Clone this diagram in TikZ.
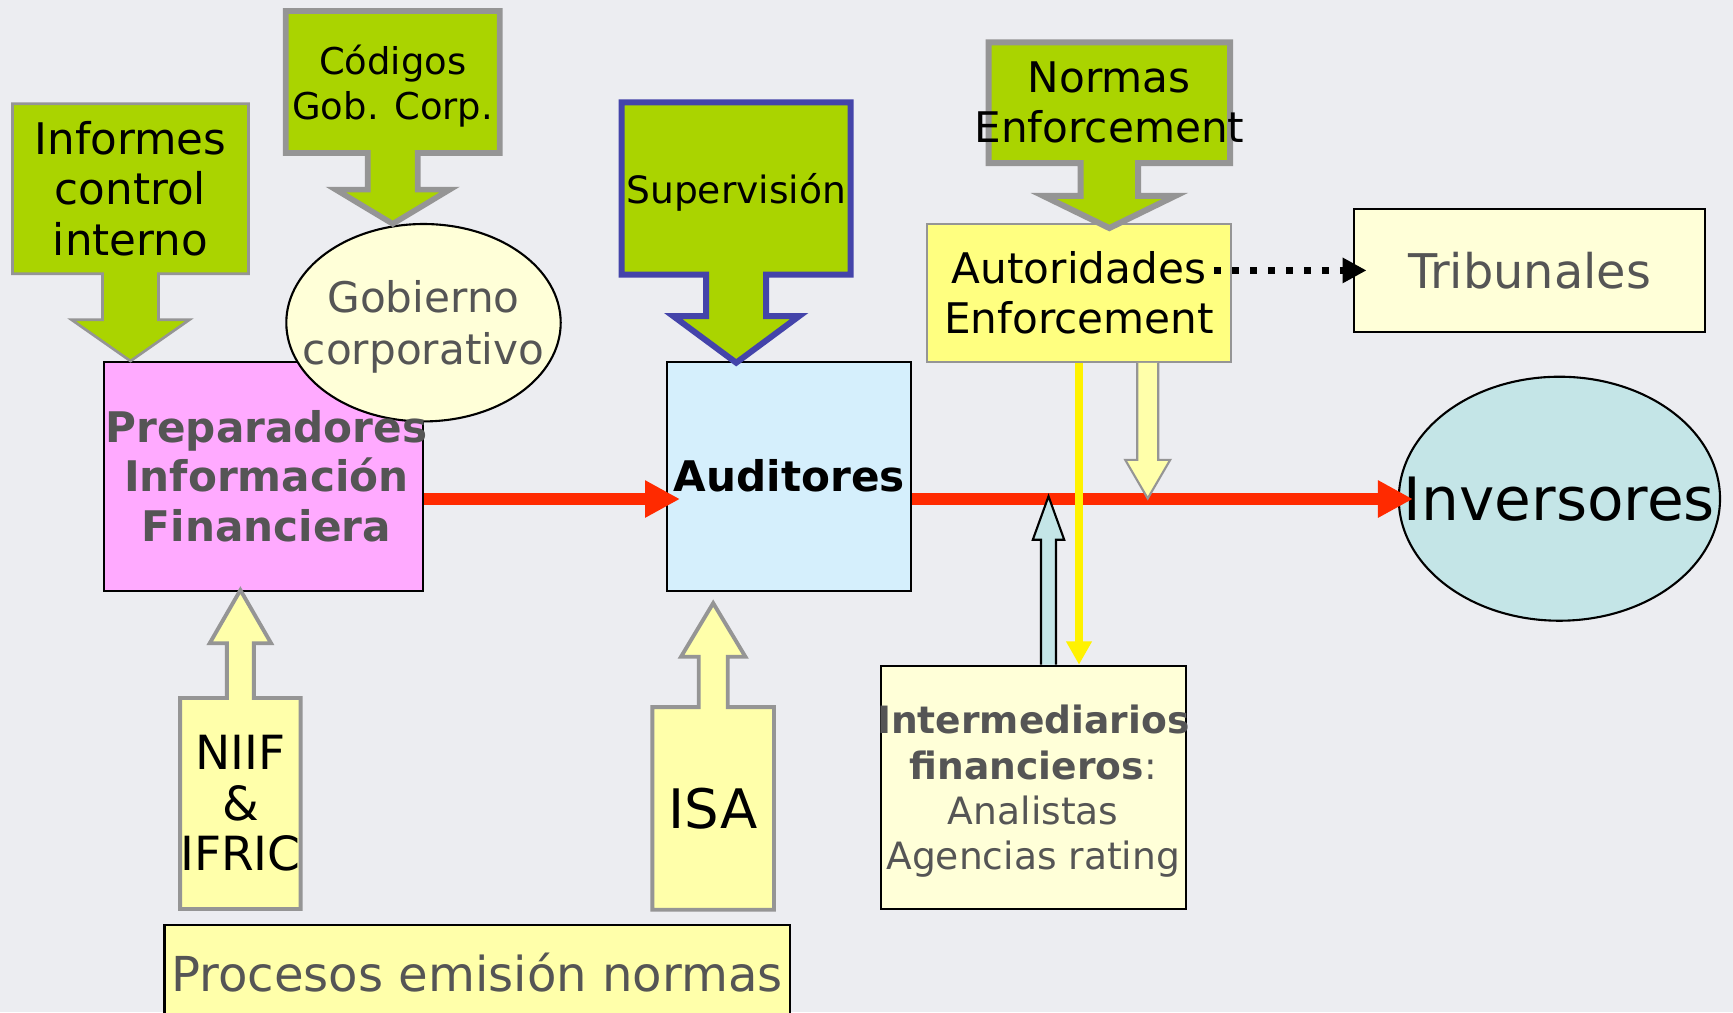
\documentclass[tikz,border=0pt]{standalone}
\usepackage{fontspec}
\setmainfont{DejaVu Sans}
\usetikzlibrary{shapes.geometric,shapes.arrows,arrows.meta}

\definecolor{bg}{HTML}{ECEDF1}
\definecolor{leaf}{HTML}{AAD400}
\definecolor{edge}{HTML}{959595}
\definecolor{navy}{HTML}{4444AA}
\definecolor{pinkbox}{HTML}{FFAAFF}
\definecolor{skybox}{HTML}{D5EFFC}
\definecolor{cream}{HTML}{FFFFD8}
\definecolor{lemon}{HTML}{FFFF80}
\definecolor{pale}{HTML}{FFFFAA}
\definecolor{tealfill}{HTML}{C4E5E7}
\definecolor{flowred}{HTML}{FF2A00}
\definecolor{ink}{HTML}{555555}

\newcommand{\spill}[1]{\makebox[0pt]{#1}}
\newcommand{\setfs}[2]{\fontsize{#1}{#2}\selectfont}

\begin{document}
\begin{tikzpicture}[
    every node/.style={inner sep=0pt, align=center},
    box/.style={rectangle, draw=black, line width=0.6pt},
    callout/.style={arrow box, fill=leaf, draw=edge},
    flowline/.style={draw=flowred, line width=3.3pt, -{Triangle[length=0.35cm,width=0.35cm]}},
  ]
  \useasboundingbox (0,0) rectangle (17.33,-10.12);
  \fill[bg] (0,0) rectangle (17.33,-10.12);
  \clip (0,0) rectangle (17.33,-10.12);

  % main boxes
  \node[box, fill=pinkbox, minimum width=3.197cm, minimum height=2.29cm] (prep) at (2.635,-4.762) {};
  \node[box, fill=skybox, minimum width=2.439cm, minimum height=2.29cm, font=\setfs{12}{14.4}\bfseries] (aud) at (7.892,-4.762) {Auditores};
  \node[box, draw=edge, fill=lemon, minimum width=3.047cm, minimum height=1.377cm, font=\setfs{12}{14.2}] (aut) at (10.79,-2.929) {Autoridades\\Enforcement};
  \node[box, fill=cream, minimum width=3.518cm, minimum height=1.227cm, text=ink, font=\setfs{13.6}{16.3}] (trib) at (15.295,-2.704) {Tribunales};
  \node[box, ellipse, fill=tealfill, minimum width=3.212cm, minimum height=2.44cm, font=\setfs{17}{20.4}] (inv) at (15.594,-4.987) {\spill{Inversores}};
  \node[box, fill=cream, minimum width=3.05cm, minimum height=2.433cm, text=ink, text depth=0pt, font=\setfs{10.7}{12.9}] (inter) at (10.332,-7.874)
    {\textbf{\spill{Intermediarios}}\\\textbf{financieros}:\\Analistas\\Agencias rating};
  \node[box, fill=pale, minimum width=6.252cm, minimum height=0.96cm, text=ink, font=\setfs{13.7}{16.4}] (normas) at (4.771,-9.73) {Procesos emisión normas};

  \node[box, ellipse, fill=cream, minimum width=2.744cm, minimum height=1.974cm, text=ink, text depth=0pt, font=\setfs{12}{14.9}] (gob) at (4.235,-3.227)
    {\spill{Gobierno}\\\spill{corporativo}};
  \node[text=ink, font=\setfs{12}{14.2}\bfseries] (preptext) at ([xshift=0.03cm]prep.center)
    {\spill{Preparadores}\\Información\\Financiera};

  % arrow boxes
  \node[callout, line width=0.75pt, minimum width=2.36cm, minimum height=1.70cm,
        arrow box arrows={south:0.86cm}, arrow box shaft width=0.56cm,
        arrow box head extend=0.31cm, arrow box tip angle=110,
        font=\setfs{12.4}{14.5}] (informes) at (1.305,-1.887) {Informes\\control\\interno};
  \node[callout, line width=1.6pt, minimum width=2.14cm, minimum height=1.42cm,
        arrow box arrows={south:0.68cm}, arrow box shaft width=0.5cm,
        arrow box head extend=0.32cm, arrow box tip angle=118, text depth=0pt,
        font=\setfs{10.5}{12.8}] (codigos) at (3.927,-0.82) {Códigos\\Gob. Corp.};
  \node[callout, draw=navy, line width=1.7pt, minimum width=2.29cm, minimum height=1.724cm,
        arrow box arrows={south:0.85cm}, arrow box shaft width=0.6cm,
        arrow box head extend=0.33cm, arrow box tip angle=107, text depth=0pt,
        font=\setfs{10.7}{12.8}] (sup) at (7.362,-1.885) {Supervisión};
  \node[callout, line width=1.7pt, minimum width=2.414cm, minimum height=1.207cm,
        arrow box arrows={south:0.62cm}, arrow box shaft width=0.575cm,
        arrow box head extend=0.37cm, arrow box tip angle=128,
        font=\setfs{12}{14.2}] (enf) at (11.093,-1.027) {Normas\\\spill{Enforcement}};
  \node[callout, fill=pale, line width=1.1pt, minimum width=1.204cm, minimum height=2.11cm,
        arrow box arrows={north:1.06cm}, arrow box shaft width=0.27cm,
        arrow box head extend=0.172cm, arrow box tip angle=60,
        font=\setfs{13.4}{14.4}] (niif) at (2.404,-8.035) {NIIF\\\&\\IFRIC};
  \node[callout, fill=pale, line width=1.1pt, minimum width=1.216cm, minimum height=2.027cm,
        arrow box arrows={north:1.02cm}, arrow box shaft width=0.29cm,
        arrow box head extend=0.177cm, arrow box tip angle=62,
        font=\setfs{15.5}{18}] (isa) at (7.132,-8.084) {ISA};

  % flows
  \coordinate (level) at (0,-4.99);
  \draw[flowline] (prep.east |- level) -- ([xshift=0.138cm]aud.west |- level);
  \draw[flowline] (aud.east |- level) -- ([xshift=0.152cm]inv.west |- level);

  \draw[yellow, line width=2.1pt, -{Triangle[length=0.233cm,width=0.243cm]}] (aut.south) -- (aut.south |- inter.north);

  \draw[edge, fill=pale, line width=0.6pt] ([xshift=0.582cm]aut.south) -- ++(0,-0.97) -- ++(-0.12,0)
    -- ++(0.225,-0.386) -- ++(0.225,0.386) -- ++(-0.12,0) -- ([xshift=0.792cm]aut.south);
  \draw[black, fill=tealfill, line width=0.6pt] ([xshift=0.078cm]inter.north) -- ++(0,1.25) -- ++(-0.082,0)
    -- ++(0.157,0.434) -- ++(0.157,-0.434) -- ++(-0.082,0) -- ([xshift=0.228cm]inter.north);

  \draw[line width=2pt, dash pattern=on 2pt off 3.1pt, -{Triangle[length=0.24cm,width=0.24cm]}]
    ([xshift=-0.18cm]aut.east |- trib.west) -- ([xshift=0.14cm]trib.west);
\end{tikzpicture}
\end{document}
